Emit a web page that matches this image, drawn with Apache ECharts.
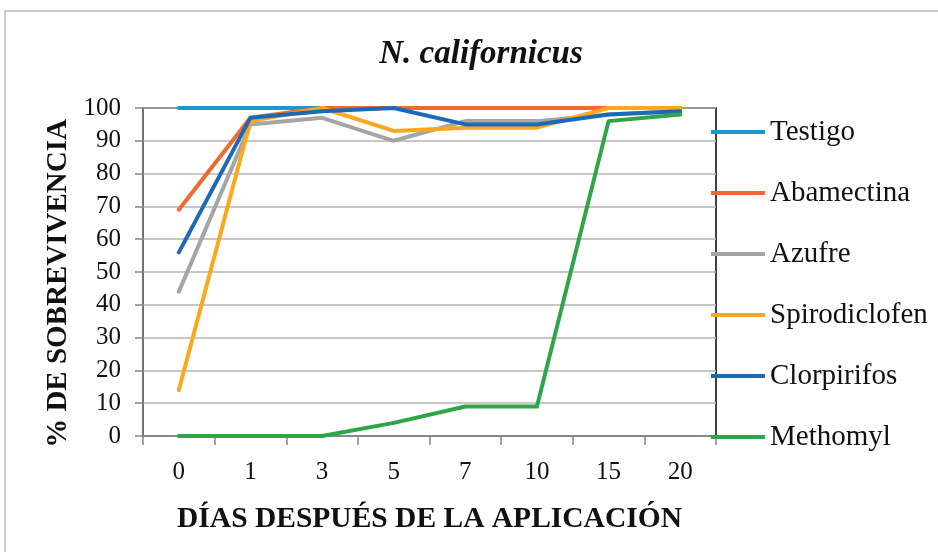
<!DOCTYPE html>
<html>
<head>
<meta charset="utf-8">
<script src="https://cdn.jsdelivr.net/npm/echarts@6/dist/echarts.min.js"></script>
<style>
  html, body { margin: 0; padding: 0; background: #fff; }
  #chart { width: 938px; height: 552px; }
</style>
</head>
<body>
<div id="chart"></div>
<script>
  // días después de la aplicación
  var dias = ['0', '1', '3', '5', '7', '10', '15', '20'];
  var yTicks = [0, 10, 20, 30, 40, 50, 60, 70, 80, 90, 100];

  var testigo = [100, 100, 100, 100, 100, 100, 100, 100];
  var abamectina = [69, 97, 100, 100, 100, 100, 100, 100];
  var azufre = [44, 95, 97, 90, 96, 96, 98, 99];
  var spirodiclofen = [14, 96, 100, 93, 94, 94, 100, 100];
  var clorpirifos = [56, 97, 99, 100, 95, 95, 98, 99];
  var methomyl = [0, 0, 0, 4, 9, 9, 96, 98];

  var nombres = ['Testigo', 'Abamectina', 'Azufre', 'Spirodiclofen', 'Clorpirifos', 'Methomyl'];
  var datos = [testigo, abamectina, azufre, spirodiclofen, clorpirifos, methomyl];
  var colores = ['#1b97cb', '#f0692f', '#a5a5a5', '#fca81d', '#1c6ab6', '#2fa548'];

  var serif = 'Liberation Serif';
  var myChart = echarts.init(document.getElementById('chart'));

  var option = {
    color: colores,
    animation: false,
    title: {
      text: 'N. californicus',
      left: 476,
      top: 33,
      textAlign: 'center',
      textStyle: { fontFamily: serif, fontStyle: 'italic', fontWeight: 'bold', fontSize: 33, color: '#111' }
    },
    graphic: [{
      type: 'rect',
      shape: { x: 5, y: 11, width: 940, height: 545 },
      style: { fill: 'none', stroke: '#bdbdbd', lineWidth: 1.5 },
      silent: true
    }],
    legend: {
      orient: 'vertical',
      left: 706,
      top: 112,
      icon: 'rect',
      itemWidth: 54,
      itemHeight: 4,
      itemGap: 31,
      itemStyle: { borderWidth: 0 },
      textStyle: { fontFamily: serif, fontSize: 29, color: '#111', lineHeight: 30 },
      data: nombres
    },
    grid: {
      left: 143,
      right: 222,
      top: 108,
      bottom: 116,
      show: true,
      borderColor: '#000',
      borderWidth: 1.5
    },
    xAxis: {
      type: 'category',
      data: dias,
      boundaryGap: true,
      name: 'DÍAS DESPUÉS DE LA APLICACIÓN',
      nameLocation: 'middle',
      nameGap: 68,
      nameTextStyle: { fontFamily: serif, fontWeight: 'bold', fontSize: 29.5, color: '#111' },
      axisLine: { lineStyle: { color: '#858585', width: 1.5 } },
      axisTick: { show: true, length: 9, lineStyle: { color: '#858585', width: 1.5 } },
      axisLabel: { fontFamily: serif, fontSize: 25, color: '#111', margin: 24 }
    },
    yAxis: {
      type: 'value',
      min: yTicks[0],
      max: yTicks[yTicks.length - 1],
      interval: 10,
      name: '% DE SOBREVIVENCIA',
      nameLocation: 'middle',
      nameGap: 70,
      nameTextStyle: { fontFamily: serif, fontWeight: 'bold', fontSize: 29, color: '#111', padding: [0, 23, 0, 0] },
      axisLine: { show: true, lineStyle: { color: '#858585', width: 1.5 } },
      axisTick: { show: true, length: 8, lineStyle: { color: '#858585', width: 1.5 } },
      axisLabel: { fontFamily: serif, fontSize: 25, color: '#111', margin: 22 },
      splitLine: { lineStyle: { color: '#b4b4b4', width: 1.5 } }
    },
    series: nombres.map(function (n, i) {
      return {
        name: n,
        type: 'line',
        data: datos[i],
        symbol: 'none',
        lineStyle: { width: 4, cap: 'round', join: 'round' }
      };
    })
  };

  myChart.setOption(option);
</script>
</body>
</html>
